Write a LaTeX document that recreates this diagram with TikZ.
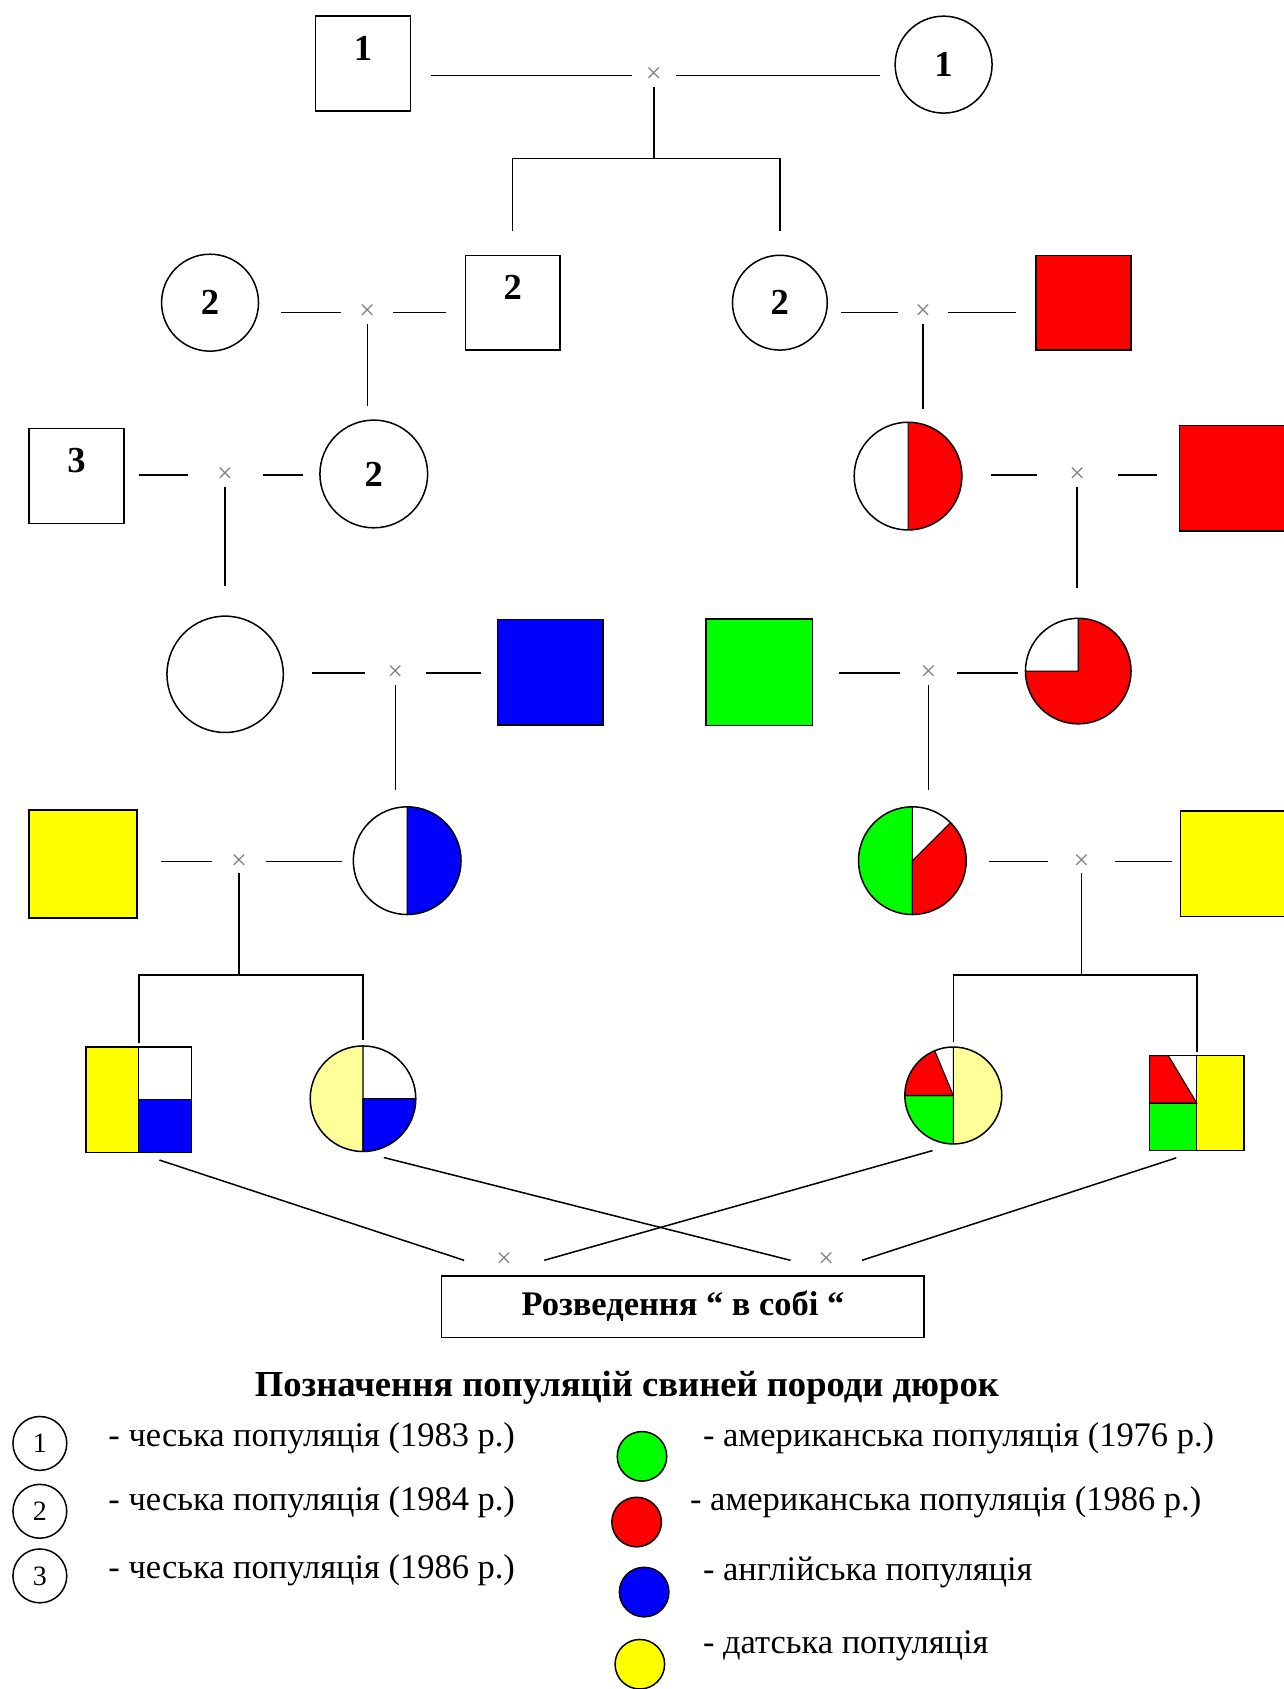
\documentclass[tikz,border=0pt]{standalone}
\usepackage{fontspec}
\setmainfont{Liberation Serif}
\usetikzlibrary{calc}

\definecolor{amgreen}{RGB}{0,255,0}
\definecolor{amred}{RGB}{255,0,0}
\definecolor{enblue}{RGB}{0,0,255}
\definecolor{dkyellow}{RGB}{255,255,0}
\definecolor{paleyellow}{RGB}{255,255,153}

\newcommand{\numfont}{\fontsize{17}{20}\selectfont\bfseries}
\newcommand{\crossfont}{\fontsize{13}{15}\selectfont}
\newcommand{\boxfont}{\fontsize{16}{19}\selectfont\bfseries}
\newcommand{\titlefont}{\fontsize{17}{20}\selectfont\bfseries}
\newcommand{\keyfont}{\fontsize{16}{19}\selectfont}
\newcommand{\smallnum}{\fontsize{13}{15}\selectfont}
% one slice of a pie, clipped to the node
\newcommand{\piepart}[3]{\filldraw[fill=#1, draw=black, line width=0.5pt]
  (path picture bounding box.center) -- ++(#2:40pt)
  arc[start angle=#2, end angle=#3, radius=40pt] -- cycle;}

\begin{document}
\begin{tikzpicture}[x=0.5pt, y=-0.5pt, line width=0.7pt,
    male/.style={draw, rectangle, minimum width=#1, minimum height=#1, inner sep=0pt},
    male/.default=44pt,
    female/.style={draw, circle, minimum size=#1, inner sep=0pt, font=\numfont},
    female/.default=45pt,
    numlabel/.style={label={[font=\numfont, yshift=7pt]center:#1}},
    mating/.style={text=gray, font=\crossfont, minimum width=#1, minimum height=10pt, inner sep=0pt},
    mating/.default=24pt,
    mate/.style={shorten <=#1},
    mate/.default=8pt,
    kid/.style={shorten >=#1},
    kid/.default=6pt,
    keymark/.style={draw, circle, minimum size=#1, inner sep=0pt, font=\smallnum},
    keytext/.style={anchor=west, inner sep=0pt, font=\keyfont}
]
\useasboundingbox (0,0) rectangle (1192,1568);

% generation 1
\node[male, numlabel=1] (S1) at (337,59) {};
\node[female] (C1) at (876,60) {1};
\node[mating=19.5pt] (m1) at (607,70) {×};

% generation 2
\node[female] (C2a) at (195,281) {2};
\node[male, numlabel=2] (S2) at (476,281) {};
\node[female=44pt] (C2b) at (724,281) {2};
\node[male, fill=amred] (R1) at (1006,281) {};
\node[mating=23.5pt] (m2a) at (341,290) {×};
\node[mating=22.5pt] (m2b) at (857,290) {×};

% generation 3
\node[male, numlabel=3] (S3) at (71,442) {};
\node[female=50pt] (C2c) at (347,440) {2};
\node[female=50pt, path picture={\piepart{amred}{-90}{90}}] (Hred) at (843,442) {};
\node[male=49pt, fill=amred] (R2) at (1144,444) {};
\node[mating=34pt] (m3a) at (209,441) {×};
\node[mating=37pt] (m3b) at (1000,441) {×};

% generation 4
\node[female=54pt] (W) at (209,626) {};
\node[male=49pt, fill=enblue] (B) at (511,624) {};
\node[male=49.5pt, fill=amgreen] (G) at (705,624) {};
\node[female=49pt, path picture={\piepart{amred}{-180}{90}}] (Q) at (1001,623) {};
\node[mating=27.5pt] (m4a) at (367,625) {×};
\node[mating=26pt] (m4b) at (862,625) {×};

% generation 5
\node[male=50pt, fill=dkyellow] (Y1) at (77,802) {};
\node[female=50pt, path picture={\piepart{enblue}{-90}{90}}] (Hblue) at (378,799) {};
\node[female=50pt, path picture={\piepart{amgreen}{90}{270}\piepart{amred}{-90}{45}}] (GR) at (847,799) {};
\node[male=49pt, fill=dkyellow] (Y2) at (1145,802) {};
\node[mating=24.5pt] (m5a) at (222,800) {×};
\node[mating=30pt] (m5b) at (1004,800) {×};

% generation 6
\node[male=49pt, path picture={
    \filldraw[fill=dkyellow, line width=0.5pt] (path picture bounding box.north west) rectangle (path picture bounding box.south);
    \filldraw[fill=enblue, line width=0.5pt] (path picture bounding box.center) rectangle (path picture bounding box.south east);}] (F1) at (129,1021) {};
\node[female=49pt, path picture={\piepart{paleyellow}{90}{270}\piepart{enblue}{-90}{0}}] (F2) at (337,1020) {};
\node[female=45pt, path picture={\piepart{paleyellow}{-90}{90}\piepart{amgreen}{180}{270}\piepart{amred}{112.5}{180}}] (F3) at (885,1017) {};
\node[male=44pt, path picture={
    \filldraw[fill=dkyellow, line width=0.5pt] (path picture bounding box.north) rectangle (path picture bounding box.south east);
    \filldraw[fill=amgreen, line width=0.5pt] (path picture bounding box.west) rectangle (path picture bounding box.south);
    \filldraw[fill=amred, line width=0.5pt] (path picture bounding box.north west)
      -- ($(path picture bounding box.north west)!0.4!(path picture bounding box.north)$)
      -- (path picture bounding box.center) -- (path picture bounding box.west) -- cycle;}] (F4) at (1111,1024) {};
\node[mating=36.5pt] (m6a) at (468,1170) {×};
\node[mating=32.5pt] (m6b) at (767,1170) {×};
\node[draw, minimum width=224pt, minimum height=28.5pt, font=\boxfont] (inbreed) at (634,1213) {Розведення “ в собі “};

% matings
\draw[mate=9pt] (S1.east |- m1) -- (m1);
\draw[mate=6.5pt] (C1.west |- m1) -- (m1);
\draw[mate=10pt] (C2a.east |- m2a) -- (m2a);
\draw[mate=8.5pt] (S2.west |- m2a) -- (m2a);
\draw[mate=6pt] (C2b.east |- m2b) -- (m2b);
\draw[mate=9pt] (R1.west |- m2b) -- (m2b);
\draw[mate=6.5pt] (S3.east |- m3a) -- (m3a);
\draw[mate=7.5pt] (C2c.west |- m3a) -- (m3a);
\draw[mate=13pt] (Hred.east |- m3b) -- (m3b);
\draw[mate=10pt] (R2.west |- m3b) -- (m3b);
\draw[mate=13pt] (W.east |- m4a) -- (m4a);
\draw[mate=7.5pt] (B.west |- m4a) -- (m4a);
\draw[mate=12pt] (G.east |- m4b) -- (m4b);
\draw[mate=3pt] (Q.west |- m4b) -- (m4b);
\draw[mate=11pt] (Y1.east |- m5a) -- (m5a);
\draw[mate=5pt] (Hblue.west |- m5a) -- (m5a);
\draw[mate=10pt] (GR.east |- m5b) -- (m5b);
\draw[mate=3.5pt] (Y2.west |- m5b) -- (m5b);

% offspring
\coordinate (b1) at (607,147);
\draw (m1) -- (b1);
\draw[kid=11pt] (b1) -| (S2);
\draw[kid=11pt] (b1) -| (C2b);
\draw[kid] (m2a) -- (m2a |- C2c.north);
\draw[kid] (m2b) -- (m2b |- Hred.north);
\draw[kid=13.5pt] (m3a) -- (m3a |- W.north);
\draw[kid=13.5pt] (m3b) -- (m3b |- Q.north);
\draw[kid=7.5pt] (m4a) -- (m4a |- Hblue.north);
\draw[kid=7.5pt] (m4b) -- (m4b |- GR.north);
\coordinate (b5a) at (222,905);
\coordinate (b5b) at (1004,905);
\draw (m5a) -- (b5a);
\draw[kid=1.5pt] (b5a) -| (F1);
\draw[kid=2.5pt] (b5a) -| (F2);
\draw (m5b) -- (b5b);
\draw[kid=2pt] (b5b) -| (F3);
\draw[kid=1.5pt] (b5b) -| (F4);

% crosses of the last generation
\draw[mate=10pt] (F1.south) -- (m6a.west);
\draw[mate=10pt] (F3.south) -- (m6a.east);
\draw[mate=10pt] (F2.south) -- (m6b.west);
\draw[mate=10pt] (F4.south) -- (m6b.east);

% legend
\node[font=\titlefont] (title) at (582,1288) {Позначення популяцій свиней породи дюрок};
\node[keymark=25pt] (k1) at (37,1340) {1};
\node[keymark=25pt] (k2) at (37,1403) {2};
\node[keymark=25pt] (k3) at (37,1463) {3};
\node[keymark=23pt, fill=amgreen] (k4) at (596,1352) {};
\node[keymark=23pt, fill=amred] (k5) at (591,1413) {};
\node[keymark=23pt, fill=enblue] (k6) at (598,1478) {};
\node[keymark=23pt, fill=dkyellow] (k7) at (594,1545) {};
\node[keytext] (t1) at (100,1335) {- чеська популяція (1983 р.)};
\node[keytext] (t2) at (100,1395) {- чеська популяція (1984 р.)};
\node[keytext] (t3) at (100,1458) {- чеська популяція (1986 р.)};
\node[keytext] (t4) at (652,1335) {- американська популяція (1976 р.)};
\node[keytext] (t5) at (640,1395) {- американська популяція (1986 р.)};
\node[keytext] (t6) at (652,1460) {- англійська популяція};
\node[keytext] (t7) at (652,1528) {- датська популяція};
\end{tikzpicture}
\end{document}
